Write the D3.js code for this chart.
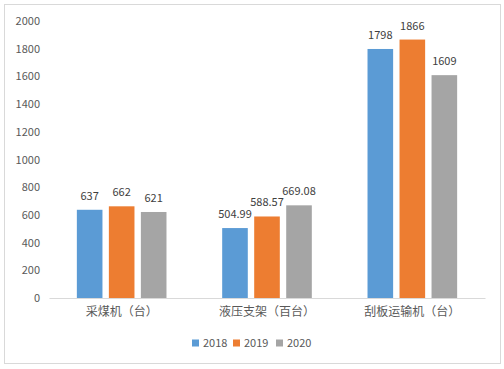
<!DOCTYPE html>
<html><head><meta charset="utf-8">
<script src="https://cdn.jsdelivr.net/npm/d3@7"></script>
<style>body{margin:0;background:#fff}svg{display:block}</style>
</head><body>
<svg id="c" width="504" height="369"></svg>
<script>
const categories = ["采煤机（台）", "液压支架（百台）", "刮板运输机（台）"];
const years = ["2018", "2019", "2020"];
const values2018 = [637, 504.99, 1798];
const values2019 = [662, 588.57, 1866];
const values2020 = [621, 669.08, 1609];
const labels2018 = ["637", "504.99", "1798"];
const labels2019 = ["662", "588.57", "1866"];
const labels2020 = ["621", "669.08", "1609"];
const yTicks = [0, 200, 400, 600, 800, 1000, 1200, 1400, 1600, 1800, 2000];
const colors = ["#5B9BD5", "#ED7D31", "#A5A5A5"];

const series = [values2018, values2019, values2020];
const seriesLabels = [labels2018, labels2019, labels2020];
const font = "'Microsoft YaHei','Noto Sans CJK SC',sans-serif";

const svg = d3.select("#c");
svg.append("rect").attr("x", 4.5).attr("y", 4.5).attr("width", 496).attr("height", 359)
  .attr("fill", "#fff").attr("stroke", "#d9d9d9");

const x0 = d3.scaleBand().domain(categories).range([49, 485]).padding(0);
const x1 = d3.scaleBand().domain(years).range([0, x0.bandwidth()]).paddingInner(0.2).paddingOuter(0.87);
const y = d3.scaleLinear().domain([0, 2000]).range([298, 21]);

// y axis labels
const yAxis = d3.axisLeft(y).tickValues(yTicks).tickFormat(d3.format("d")).tickSize(0).tickPadding(0);
const gy = svg.append("g").attr("transform", "translate(40,0)").call(yAxis);
gy.select(".domain").remove();
gy.selectAll("text").attr("fill", "#595959").style("font-size", "11px").style("font-family", font);

// bars
categories.forEach((c, ci) => {
  years.forEach((yr, si) => {
    const v = series[si][ci];
    const bx = x0(c) + x1(yr);
    svg.append("rect").attr("x", bx).attr("y", y(v)).attr("width", x1.bandwidth())
      .attr("height", y(0) - y(v)).attr("fill", colors[si]);
    svg.append("text").attr("x", bx + x1.bandwidth() / 2).attr("y", y(v) - 10)
      .attr("text-anchor", "middle").attr("fill", "#404040")
      .style("font-size", "11px").style("font-family", font).text(seriesLabels[si][ci]);
  });
});

// x axis
const xAxis = d3.axisBottom(x0).tickSize(0).tickPadding(9);
const gx = svg.append("g").attr("transform", "translate(0,298)").call(xAxis);
gx.select(".domain").attr("stroke", "#d9d9d9");
gx.selectAll("text").attr("fill", "#595959").style("font-size", "12px").style("font-family", font);

// legend
const legendX = [192, 233, 276];
years.forEach((yr, i) => {
  const g = svg.append("g").attr("transform", `translate(${legendX[i]},343)`);
  g.append("rect").attr("x", 0).attr("y", -3.5).attr("width", 7).attr("height", 7).attr("fill", colors[i]);
  g.append("text").attr("x", 11).attr("y", 0).attr("dy", "0.35em").attr("fill", "#595959")
    .style("font-size", "11px").style("font-family", font).text(yr);
});
</script>
</body></html>
